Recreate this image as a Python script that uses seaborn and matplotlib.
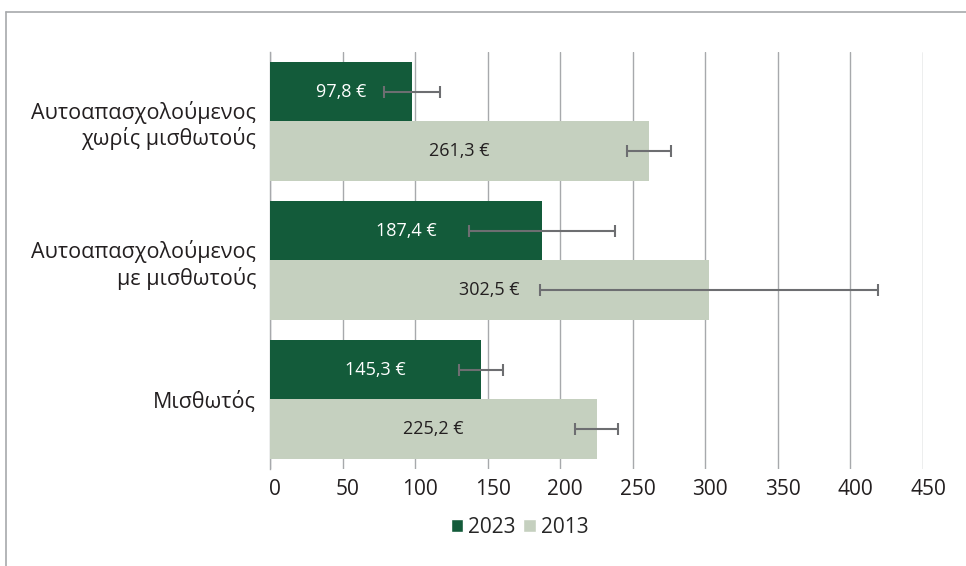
import pandas as pd
import matplotlib.pyplot as plt
import matplotlib.transforms as mtransforms
import seaborn as sns
from matplotlib.lines import Line2D
from matplotlib.patches import Patch

# --- Data ---
categories = ['Αυτοαπασχολούμενος\nχωρίς μισθωτούς', 'Αυτοαπασχολούμενος\nμε μισθωτούς', 'Μισθωτός']
years = ['2023', '2013']
values_2023 = [97.8, 187.4, 145.3]
values_2013 = [261.3, 302.5, 225.2]
err_2023 = [19.3, 50.6, 15.2]
err_2013 = [15.2, 116.3, 14.8]
ticks = [0, 50, 100, 150, 200, 250, 300, 350, 400, 450]

colors = {'2023': '#135B3A', '2013': '#C5D0BF'}
text_colors = {'2023': 'white', '2013': '#231F20'}

df = pd.DataFrame({
    'category': categories * 2,
    'year': ['2023'] * 3 + ['2013'] * 3,
    'value': values_2023 + values_2013,
})
errors = {'2023': err_2023, '2013': err_2013}
values = {'2023': values_2023, '2013': values_2013}

# --- Styling ---
sns.set_style("white")
plt.rcParams['font.family'] = ['Open Sans', 'DejaVu Sans']

fig = plt.figure(figsize=(9.66, 5.66), dpi=100)
ax = fig.add_axes([0.2795, 0.1714, 0.676, 0.737])

sns.barplot(data=df, y='category', x='value', hue='year', hue_order=years,
            order=categories, palette=colors, orient='h', width=0.855,
            errorbar=None, saturation=1, linewidth=0, ax=ax, legend=False, zorder=3)

for cont, yr in zip(ax.containers, years):
    ys = [p.get_y() + p.get_height() / 2 for p in cont.patches]
    ax.errorbar(values[yr], ys, xerr=errors[yr], fmt='none', ecolor='#6D6E71',
                elinewidth=1.5, capsize=4, capthick=1.5, zorder=5)
    labels = [f"{v:.1f}".replace('.', ',') + ' €' for v in values[yr]]
    ax.bar_label(cont, labels=labels, label_type='center', color=text_colors[yr],
                 fontsize=13, zorder=6)

ax.set_xlim(0, 450)
ax.set_ylim(2.5, -0.5)
ax.set_xticks(ticks)
ax.set_xticklabels([str(t) for t in ticks])
ax.xaxis.grid(True, color='#A7A9AC', linewidth=1, zorder=0)
ax.set_axisbelow(True)
ax.set_xlabel('')
ax.set_ylabel('')
for s in ['top', 'right', 'bottom']:
    ax.spines[s].set_visible(False)
ax.spines['left'].set_color('#A7A9AC')
ax.spines['left'].set_linewidth(1)
ax.tick_params(axis='x', length=0, pad=7, labelsize=15, colors='#231F20')
ax.tick_params(axis='y', length=0, pad=10, labelsize=15.5, colors='#231F20')
for lab in ax.get_yticklabels():
    lab.set_multialignment('right')
shift = mtransforms.ScaledTranslation(5 / 100, 0, fig.dpi_scale_trans)
for lab in ax.get_xticklabels():
    lab.set_transform(lab.get_transform() + shift)

handles = [Patch(facecolor=colors[y], label=y) for y in years]
fig.legend(handles=handles, loc='center', bbox_to_anchor=(0.538, 0.068), ncol=2,
           frameon=False, fontsize=15, handlelength=0.6, handleheight=0.6,
           handletextpad=0.25, columnspacing=0.35)

# outer frame lines (top and left)
fig.add_artist(Line2D([0.006, 1.0], [0.979, 0.979], color='#A7A9AC', linewidth=1.2))
fig.add_artist(Line2D([0.006, 0.006], [0.0, 0.979], color='#A7A9AC', linewidth=1.2))

fig.savefig('out.png', dpi=100)
